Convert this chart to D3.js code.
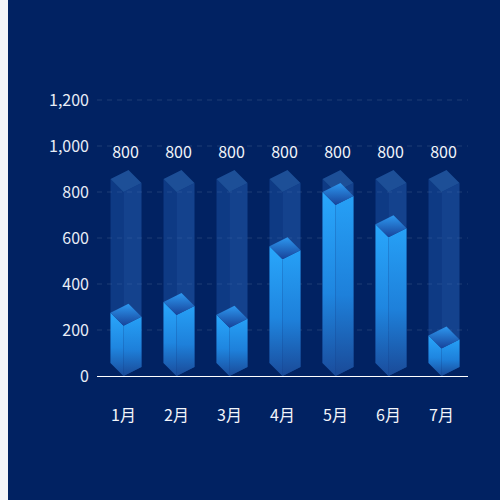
<!DOCTYPE html>
<html>
<head>
<meta charset="utf-8">
<script src="https://cdn.jsdelivr.net/npm/d3@7"></script>
<style>
  html, body { margin: 0; padding: 0; background: #f3f5f9; }
  svg { display: block; }
  text { font-family: "Noto Sans CJK SC", "Noto Sans", sans-serif; }
</style>
</head>
<body>
<svg id="chart" width="500" height="500"></svg>
<script>
// chart data
var months = ['1月', '2月', '3月', '4月', '5月', '6月', '7月'];
var values = [218, 265, 210, 508, 743, 603, 120];
var maxValues = [800, 800, 800, 800, 800, 800, 800];
var yTicks = [0, 200, 400, 600, 800, 1000, 1200];

var svg = d3.select('#chart');

// blue panel, leaves the thin light strip on the left
svg.append('rect')
  .attr('x', 8).attr('y', 0)
  .attr('width', 492).attr('height', 500)
  .attr('fill', '#012262');

var x = d3.scaleBand().domain(months).range([97, 468]);
var y = d3.scaleLinear().domain([0, 1200]).range([376, 100]);

//
// gradients
//
var defs = svg.append('defs');
function vGrad(id, stops) {
  var g = defs.append('linearGradient')
    .attr('id', id)
    .attr('x1', 0).attr('y1', 0).attr('x2', 0).attr('y2', 1);
  stops.forEach(function (s) {
    g.append('stop').attr('offset', s[0]).attr('stop-color', s[1]);
  });
}
vGrad('gLeft', [[0, '#29a7fc'], [0.55, '#1f86e0'], [1, '#1a4c9c']]);
vGrad('gRight', [[0, '#26a0f6'], [0.55, '#1e80da'], [1, '#1a4a98']]);
vGrad('gTop', [[0, '#2d98f0'], [1, '#17439a']]);

//
// grid + y axis labels
//
svg.append('g')
  .selectAll('line')
  .data(yTicks.filter(function (d) { return d > 0; }))
  .join('line')
  .attr('x1', 97).attr('x2', 468)
  .attr('y1', function (d) { return y(d); })
  .attr('y2', function (d) { return y(d); })
  .attr('stroke', 'rgba(255,255,255,0.12)')
  .attr('stroke-dasharray', '5,5');

svg.append('g')
  .selectAll('text')
  .data(yTicks)
  .join('text')
  .attr('x', 89)
  .attr('y', function (d) { return y(d); })
  .attr('dy', '0.35em')
  .attr('text-anchor', 'end')
  .attr('font-size', 16)
  .attr('fill', '#e8edf6')
  .text(d3.format(','));

// cube faces, (cx, cy) is the front vertex, y0 the base
function leftFace(cx, cy, y0) {
  return 'M' + cx + ',' + cy + 'L' + (cx - 13) + ',' + (cy - 13) +
    'L' + (cx - 13) + ',' + (y0 - 13) + 'L' + cx + ',' + y0 + 'Z';
}
function rightFace(cx, cy, y0) {
  return 'M' + cx + ',' + cy + 'L' + cx + ',' + y0 +
    'L' + (cx + 18) + ',' + (y0 - 9) + 'L' + (cx + 18) + ',' + (cy - 9) + 'Z';
}
function topFace(cx, cy) {
  return 'M' + cx + ',' + cy + 'L' + (cx + 18) + ',' + (cy - 9) +
    'L' + (cx + 5) + ',' + (cy - 22) + 'L' + (cx - 13) + ',' + (cy - 13) + 'Z';
}
function cx(i) { return x(months[i]) + x.bandwidth() / 2; }

//
// background (max) bars
//
var back = svg.append('g');
maxValues.forEach(function (v, i) {
  var c = cx(i), t = y(v), b = y(0);
  back.append('path').attr('d', leftFace(c, t, b)).attr('fill', 'rgba(38,96,190,0.38)');
  back.append('path').attr('d', rightFace(c, t, b)).attr('fill', 'rgba(44,106,196,0.45)');
  back.append('path').attr('d', topFace(c, t)).attr('fill', 'rgba(50,112,190,0.58)');
});

// value labels above the background bars
svg.append('g')
  .selectAll('text')
  .data(maxValues)
  .join('text')
  .attr('x', function (d, i) { return cx(i) + 2; })
  .attr('y', function (d) { return y(d) - 40; })
  .attr('dy', '0.35em')
  .attr('text-anchor', 'middle')
  .attr('font-size', 16)
  .attr('fill', '#f2f5fa')
  .text(function (d) { return d; });

//
// value bars
//
var front = svg.append('g');
values.forEach(function (v, i) {
  var c = cx(i), t = y(v), b = y(0);
  front.append('path').attr('d', leftFace(c, t, b)).attr('fill', 'url(#gLeft)');
  front.append('path').attr('d', rightFace(c, t, b)).attr('fill', 'url(#gRight)');
  front.append('path').attr('d', topFace(c, t)).attr('fill', 'url(#gTop)');
});

//
// x axis
//
svg.append('line')
  .attr('x1', 97).attr('x2', 468)
  .attr('y1', y(0) + 0.5).attr('y2', y(0) + 0.5)
  .attr('stroke', '#ffffff');

svg.append('g')
  .selectAll('text')
  .data(months)
  .join('text')
  .attr('x', function (d, i) { return cx(i); })
  .attr('y', 415)
  .attr('dy', '0.35em')
  .attr('text-anchor', 'middle')
  .attr('font-size', 16)
  .attr('fill', '#f2f5fa')
  .text(function (d) { return d; });
</script>
</body>
</html>
